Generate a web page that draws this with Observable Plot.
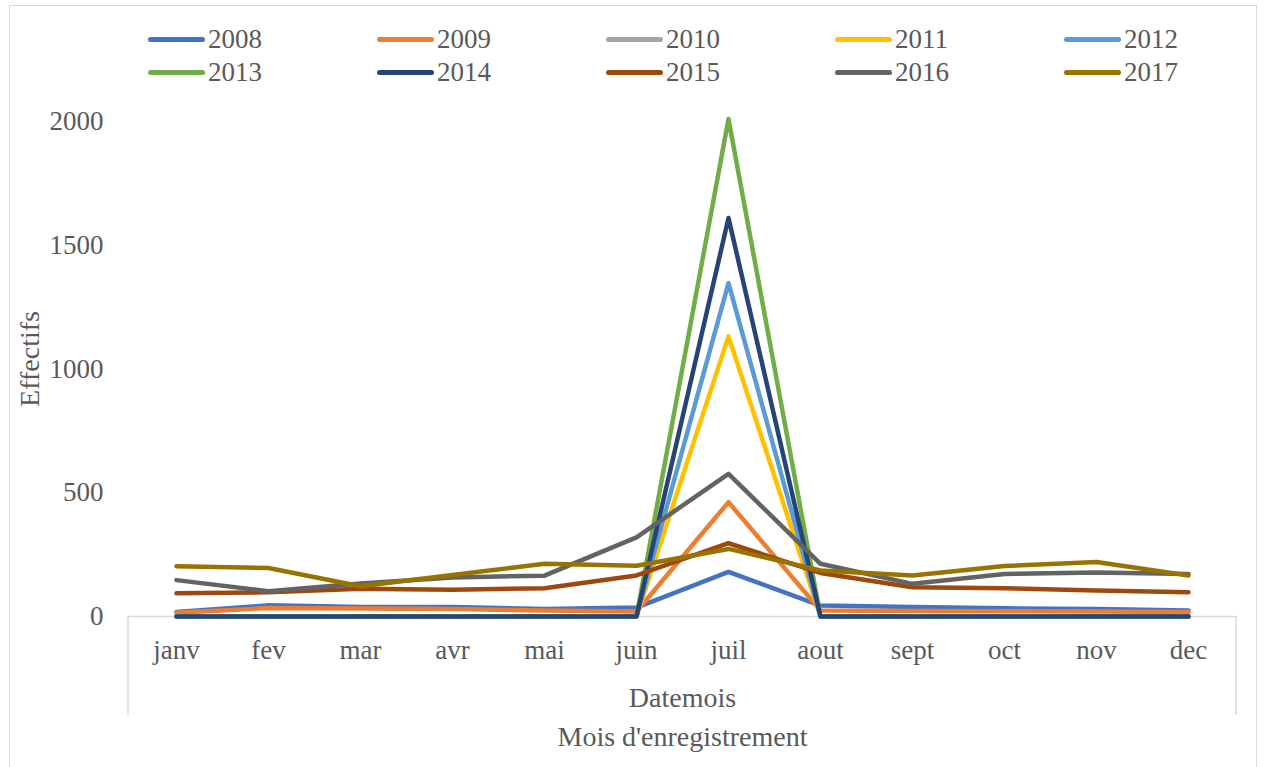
<!DOCTYPE html>
<html>
<head>
<meta charset="utf-8">
<script src="https://cdn.jsdelivr.net/npm/d3@7"></script>
<script src="https://cdn.jsdelivr.net/npm/@observablehq/plot@0.6"></script>
<style>
  html, body { margin: 0; padding: 0; background: #fff; }
  body { width: 1268px; height: 767px; position: relative; overflow: hidden; font-family: "Liberation Serif", "Times New Roman", serif; }
  #frame { position: absolute; left: 9px; top: 5px; width: 1248px; height: 800px; border: 1px solid #d9d9d9; box-sizing: border-box; }
  #legend { position: absolute; left: 148px; top: 23px; display: grid; grid-template-columns: repeat(5, 229px); grid-auto-rows: 33px; }
  .item { display: flex; align-items: center; font-size: 27px; color: #595959; }
  .sw { width: 57px; height: 5px; border-radius: 3px; margin-right: 3px; }
  #chart { position: absolute; left: 0; top: 95px; }
</style>
</head>
<body>
<div id="frame"></div>
<div id="legend"></div>
<div id="chart"></div>
<script>
const months = ["janv","fev","mar","avr","mai","juin","juil","aout","sept","oct","nov","dec"];
const years = ["2008","2009","2010","2011","2012","2013","2014","2015","2016","2017"];
const colors = ["#4472C4","#ED7D31","#A5A5A5","#FFC000","#5B9BD5","#70AD47","#264478","#9E480E","#636363","#997300"];
const yTicks = [0, 500, 1000, 1500, 2000];

const v2008 = [18, 45, 38, 38, 30, 36, 180, 44, 38, 33, 30, 24];
const v2009 = [15, 34, 32, 30, 24, 20, 462, 24, 22, 21, 20, 18];
const v2010 = [null, null, null, null, null, null, null, null, null, null, null, null];
const v2011 = [0, 0, 0, 0, 0, 0, 1132, 0, 0, 0, 0, 0];
const v2012 = [0, 0, 0, 0, 0, 0, 1347, 0, 0, 0, 0, 0];
const v2013 = [0, 0, 0, 0, 0, 0, 2010, 0, 0, 0, 0, 0];
const v2014 = [0, 0, 0, 0, 0, 0, 1610, 0, 0, 0, 0, 0];
const v2015 = [94, 98, 112, 108, 114, 166, 296, 176, 118, 114, 105, 98];
const v2016 = [147, 102, 133, 158, 165, 320, 576, 213, 132, 172, 178, 172];
const v2017 = [203, 196, 122, 168, 213, 205, 273, 186, 166, 204, 220, 166];

const series = [v2008, v2009, v2010, v2011, v2012, v2013, v2014, v2015, v2016, v2017];
const data = [];
years.forEach((yr, i) => months.forEach((m, j) => data.push({year: yr, month: m, value: series[i][j]})));

// Legend
const legend = document.getElementById("legend");
years.forEach((yr, i) => {
  const it = document.createElement("div");
  it.className = "item";
  it.innerHTML = `<span class="sw" style="background:${colors[i]}"></span><span>${yr}</span>`;
  legend.appendChild(it);
});

const W = 1268, H = 672, mT = 26, mB = 151, mL = 128, mR = 32;
const font = {fontFamily: "Liberation Serif", fontSize: 28, fill: "#595959"};

const chart = Plot.plot({
  width: W, height: H,
  marginTop: mT, marginBottom: mB, marginLeft: mL, marginRight: mR,
  style: {fontFamily: "Liberation Serif", fontSize: "27px", color: "#595959", background: "transparent", overflow: "visible"},
  x: {type: "point", domain: months, padding: 0.5, label: null},
  y: {domain: [0, 2000], label: null},
  color: {domain: years, range: colors},
  marks: [
    Plot.axisY({ticks: yTicks, tickFormat: d3.format("d"), tickSize: 0, tickPadding: 25, label: null, fontSize: 27}),
    Plot.axisX({tickSize: 0, tickPadding: 23, label: null, fontSize: 27}),
    Plot.ruleY([0], {stroke: "#d9d9d9", strokeWidth: 1.5}),
    Plot.lineY(data, {x: "month", y: "value", z: "year", stroke: "year", strokeWidth: 4.5, strokeLinejoin: "round", strokeLinecap: "round", clip: false}),
    Plot.text(["Effectifs"], {frameAnchor: "left", textAnchor: "middle", rotate: -90, dx: -98, dy: -10, ...font}),
    Plot.text(["Datemois"], {frameAnchor: "bottom", dy: 82, lineAnchor: "middle", ...font}),
    Plot.text(["Mois d'enregistrement"], {frameAnchor: "bottom", dy: 121, lineAnchor: "middle", ...font})
  ]
});

// category-axis separators
const svg = d3.select(chart);
[mL, W - mR].forEach(x => {
  svg.append("line").attr("x1", x).attr("x2", x)
    .attr("y1", H - mB).attr("y2", H - mB + 99)
    .attr("stroke", "#d9d9d9").attr("stroke-width", 1.5);
});

document.getElementById("chart").appendChild(chart);
</script>
</body>
</html>
